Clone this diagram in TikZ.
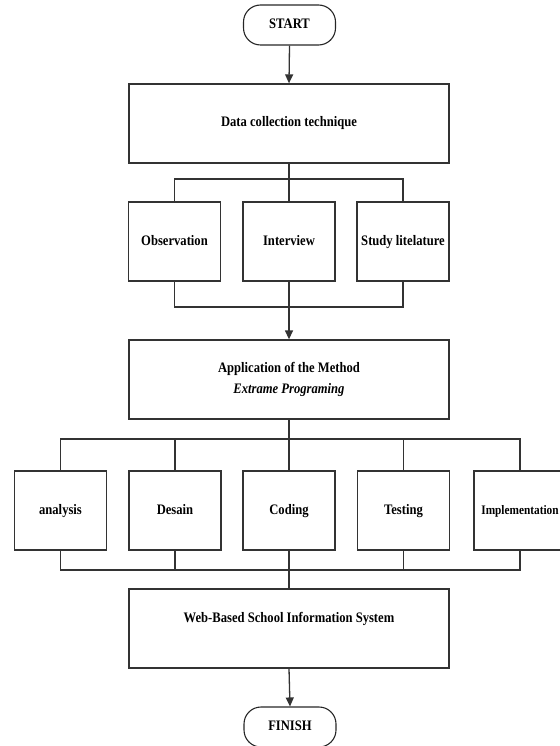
\documentclass[tikz,border=0pt]{standalone}
\usepackage{fontspec}
\setmainfont{Liberation Serif}[FakeStretch=0.87]
\usetikzlibrary{arrows.meta,calc}
\begin{document}
\begin{tikzpicture}[x=1pt,y=-1pt,
  lab/.style={font=\fontsize{14.5}{21}\selectfont\bfseries, align=center, inner sep=0pt},
  one/.style={text height=10pt, text depth=3pt},
  box/.style={lab, draw=black!80, line width=1.3pt, minimum width=92pt, minimum height=79pt},
  bigbox/.style={box, minimum width=320pt},
  term/.style={lab, one, draw=black!85, line width=1.1pt, rounded corners=17pt, minimum width=92pt, minimum height=40pt},
  conn/.style={line width=1.3pt, draw=black!80},
  arr/.style={-{Triangle[length=9pt,width=8pt]}}]
\useasboundingbox (0,0) rectangle (559,746);
\node[term] (start) at (289.5,25) {START};
\node[bigbox, one] (dct) at (289,123.5) {Data collection technique};
\node[box, one] (obs) at (174.5,241.5) {Observation};
\node[box, one] (int) at (289,241.5) {Interview};
\node[box, one] (stu) at (403,241.5) {Study litelature};
\node[bigbox] (app) at (289,379.5) {Application of the Method\\\textit{Extrame Programing}};
\node[box, one] (ana) at (60.5,510.5) {analysis};
\node[box, one] (des) at (175,510.5) {Desain};
\node[box, one] (cod) at (289,510.5) {Coding};
\node[box, one] (tes) at (403.5,510.5) {Testing};
\node[box, one, font=\fontsize{13}{15}\selectfont\bfseries] (imp) at (520,510.5) {Implementation};
\node[bigbox] (web) at (289,628.5) {};
\node[lab, one] (webtxt) at ($(web.center)+(0,-9.5)$) {Web-Based School Information System};
\node[term] (finish) at (290,727) {FINISH};
\coordinate (jt1) at (289,179);
\coordinate (jb1) at (289,307);
\coordinate (jt2) at (289,439);
\coordinate (jb2) at (289,570);
\draw[conn,arr] (start.south) -- (dct.north);
\draw[conn] (dct.south) -- (jt1);
\draw[conn] (obs.north) |- (jt1) -| (stu.north);
\draw[conn] (jt1) -- (int.north);
\draw[conn] (obs.south) |- (jb1) -| (stu.south);
\draw[conn] (int.south) -- (jb1);
\draw[conn,arr] (jb1) -- (app.north);
\draw[conn] (app.south) -- (jt2);
\draw[conn] (ana.north) |- (jt2) -| (imp.north);
\draw[conn] (des.north) -- (des.north |- jt2);
\draw[conn] (cod.north) -- (jt2);
\draw[conn] (tes.north) -- (tes.north |- jt2);
\draw[conn] (ana.south) |- (jb2) -| (imp.south);
\draw[conn] (des.south) -- (des.south |- jb2);
\draw[conn] (tes.south) -- (tes.south |- jb2);
\draw[conn] (cod.south) -- (web.north);
\draw[conn,arr] (web.south) -- (finish.north);
\end{tikzpicture}
\end{document}
